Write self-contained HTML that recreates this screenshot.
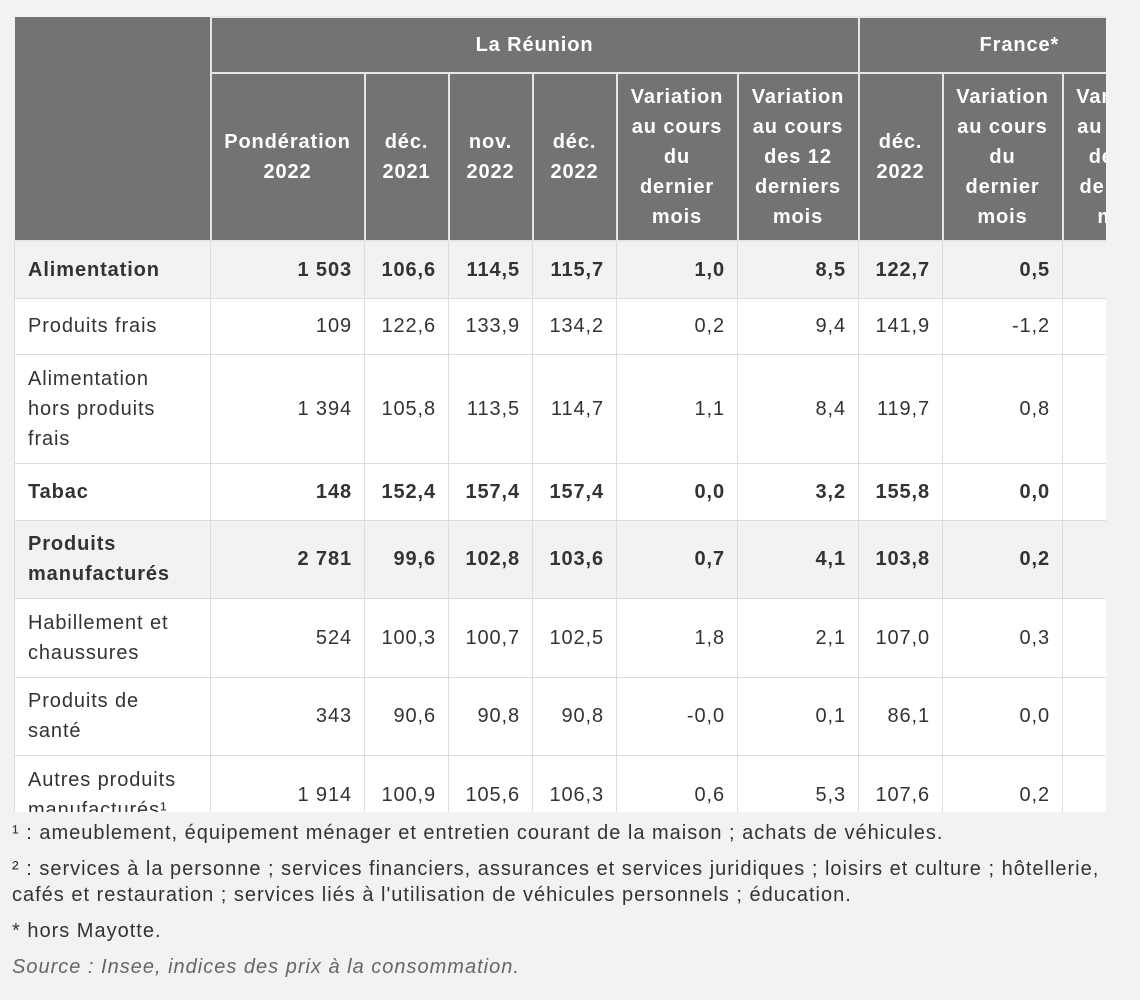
<!DOCTYPE html>
<html><head><meta charset="utf-8"><style>
body{margin:0;background:#f2f2f2;width:1140px;height:1000px;overflow:hidden;font-family:"Liberation Sans","DejaVu Sans",sans-serif;color:#333}
.wrap{position:absolute;left:14px;top:16px;width:1092px;height:796px;overflow:hidden}
table{border-collapse:collapse;table-layout:fixed;width:1168px;font-size:20px;letter-spacing:0.9px}
th{background:#737373;color:#fff;font-weight:bold;border:2px solid #e6e6e6;line-height:30px;padding:0 4px;text-align:center;vertical-align:middle;white-space:nowrap}
td{border:1px solid #dcdcdc;line-height:30px;padding:0 12px;text-align:right;vertical-align:middle;background:#fff;white-space:nowrap}
td:first-child{text-align:left;padding-left:13px}
tr.b td{font-weight:bold;background:#f2f2f2}
.notes{position:absolute;left:12px;top:820px;width:1125px;font-size:20px;line-height:26px;letter-spacing:1.0px;white-space:nowrap}
.notes p{margin:0 0 10px}
.src{font-style:italic;color:#666}
</style></head><body>
<div class="wrap"><table>
<colgroup><col style="width:196px"><col style="width:154px"><col style="width:84px"><col style="width:84px"><col style="width:84px"><col style="width:121px"><col style="width:121px"><col style="width:84px"><col style="width:120px"><col style="width:120px"></colgroup>
<tr style="height:56px"><th rowspan="2" style="border-top:none;border-left:none"></th><th colspan="6">La Réunion</th><th colspan="3" style="text-align:left;padding-left:120px">France*</th></tr>
<tr style="height:168px"><th>Pondération<br>2022</th><th>déc.<br>2021</th><th>nov.<br>2022</th><th>déc.<br>2022</th><th>Variation<br>au cours<br>du<br>dernier<br>mois</th><th>Variation<br>au cours<br>des 12<br>derniers<br>mois</th><th>déc.<br>2022</th><th>Variation<br>au cours<br>du<br>dernier<br>mois</th><th>Variation<br>au cours<br>des 12<br>derniers<br>mois</th></tr>
<tr class="b" style="height:57px"><td>Alimentation</td><td>1 503</td><td>106,6</td><td>114,5</td><td>115,7</td><td>1,0</td><td>8,5</td><td>122,7</td><td>0,5</td><td>12,1</td></tr>
<tr style="height:56px"><td>Produits frais</td><td>109</td><td>122,6</td><td>133,9</td><td>134,2</td><td>0,2</td><td>9,4</td><td>141,9</td><td>-1,2</td><td>12,2</td></tr>
<tr style="height:109px"><td>Alimentation<br>hors produits<br>frais</td><td>1 394</td><td>105,8</td><td>113,5</td><td>114,7</td><td>1,1</td><td>8,4</td><td>119,7</td><td>0,8</td><td>12,1</td></tr>
<tr class="b" style="height:57px"><td style="background:#fff">Tabac</td><td style="background:#fff">148</td><td style="background:#fff">152,4</td><td style="background:#fff">157,4</td><td style="background:#fff">157,4</td><td style="background:#fff">0,0</td><td style="background:#fff">3,2</td><td style="background:#fff">155,8</td><td style="background:#fff">0,0</td><td style="background:#fff">0,0</td></tr>
<tr class="b" style="height:78px"><td>Produits<br>manufacturés</td><td>2 781</td><td>99,6</td><td>102,8</td><td>103,6</td><td>0,7</td><td>4,1</td><td>103,8</td><td>0,2</td><td>4,6</td></tr>
<tr style="height:79px"><td>Habillement et<br>chaussures</td><td>524</td><td>100,3</td><td>100,7</td><td>102,5</td><td>1,8</td><td>2,1</td><td>107,0</td><td>0,3</td><td>3,2</td></tr>
<tr style="height:78px"><td>Produits de<br>santé</td><td>343</td><td>90,6</td><td>90,8</td><td>90,8</td><td>-0,0</td><td>0,1</td><td>86,1</td><td>0,0</td><td>0,1</td></tr>
<tr style="height:80px"><td>Autres produits<br>manufacturés¹</td><td>1 914</td><td>100,9</td><td>105,6</td><td>106,3</td><td>0,6</td><td>5,3</td><td>107,6</td><td>0,2</td><td>5,9</td></tr>
</table></div>
<div class="notes">
<p>¹ : ameublement, équipement ménager et entretien courant de la maison ; achats de véhicules.</p>
<p>² : services à la personne ; services financiers, assurances et services juridiques ; loisirs et culture ; hôtellerie,<br>cafés et restauration ; services liés à l'utilisation de véhicules personnels ; éducation.</p>
<p>* hors Mayotte.</p>
<p class="src">Source : Insee, indices des prix à la consommation.</p>
</div>
</body></html>
